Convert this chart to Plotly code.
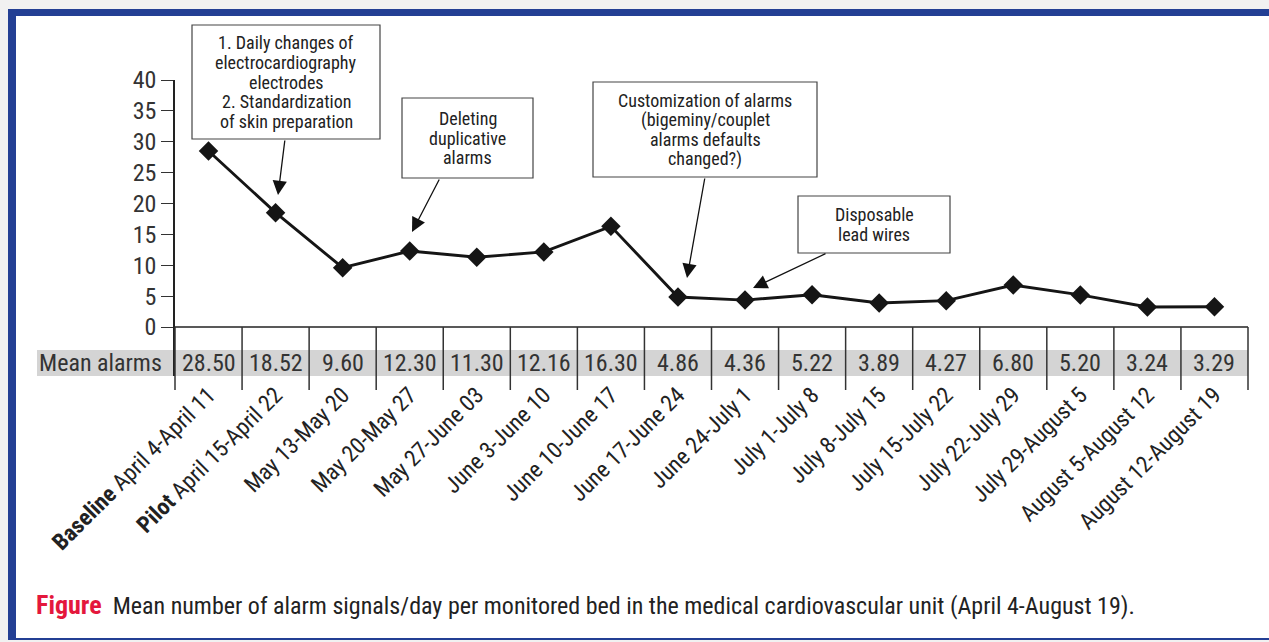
import plotly.graph_objects as go

categories = ["<b>Baseline</b> April 4-April 11", "<b>Pilot</b> April 15-April 22", "May 13-May 20",
              "May 20-May 27", "May 27-June 03", "June 3-June 10", "June 10-June 17",
              "June 17-June 24", "June 24-July 1", "July 1-July 8", "July 8-July 15",
              "July 15-July 22", "July 22-July 29", "July 29-August 5", "August 5-August 12",
              "August 12-August 19"]
mean_alarms = [28.50, 18.52, 9.60, 12.30, 11.30, 12.16, 16.30, 4.86, 4.36, 5.22, 3.89,
               4.27, 6.80, 5.20, 3.24, 3.29]
y_ticks = [0, 5, 10, 15, 20, 25, 30, 35, 40]
row_label = "Mean alarms"
callouts = [
    ["1. Daily changes of", "electrocardiography", "electrodes", "2. Standardization", "of skin preparation"],
    ["Deleting", "duplicative", "alarms"],
    ["Customization of alarms", "(bigeminy/couplet", "alarms defaults", "changed?)"],
    ["Disposable", "lead wires"],
]
caption_head = "Figure"
caption_text = "Mean number of alarm signals/day per monitored bed in the medical cardiovascular unit (April 4-August 19)."

FONT = "'Roboto Condensed', Roboto, sans-serif"
W, H = 1269, 642
L, R, T, B = 175, 1248, 80, 376
Y0PX = 327                      # pixel row of y = 0
YMAX = 40
YMIN = -(B - Y0PX) * YMAX / (Y0PX - T)
N = len(categories)


def px(x):
    return (x - L) / (R - L)


def py(y):
    return (B - y) / (B - T)


def ydata(pix):
    return (Y0PX - pix) * YMAX / (Y0PX - T)


def xdata(pix):
    return (pix - L) * N / (R - L) - 0.5


xs = list(range(N))
fig = go.Figure()
fig.add_trace(go.Scatter(
    x=xs, y=mean_alarms, mode="lines+markers",
    line=dict(color="#151515", width=2.9),
    marker=dict(symbol="diamond", size=15, color="#151515"),
    showlegend=False, hoverinfo="skip", cliponaxis=False))

shapes = []
# page frame
shapes.append(dict(type="rect", xref="paper", yref="paper", x0=px(0), x1=px(W), y0=py(0), y1=py(H),
                   fillcolor="#f1f1f1", line=dict(width=0), layer="below"))
shapes.append(dict(type="rect", xref="paper", yref="paper", x0=px(8), x1=px(W), y0=py(9), y1=py(640),
                   fillcolor="#233f94", line=dict(width=0), layer="below"))
shapes.append(dict(type="rect", xref="paper", yref="paper", x0=px(16), x1=px(W), y0=py(16), y1=py(638),
                   fillcolor="white", line=dict(width=0), layer="below"))
# gray table band
shapes.append(dict(type="rect", xref="paper", yref="paper", x0=px(37), x1=1, y0=py(350), y1=py(376),
                   fillcolor="#d4d4d4", line=dict(width=0), layer="below"))
# x line at zero
shapes.append(dict(type="line", xref="x", yref="y", x0=-0.5, x1=N - 0.5, y0=0, y1=0,
                   line=dict(color="#222222", width=1.6)))
# column separators (boundaries between categories)
for i in range(0, N + 1):
    shapes.append(dict(type="line", xref="paper", yref="paper", x0=i / N, x1=i / N,
                       y0=py(Y0PX), y1=py(390), line=dict(color="#333333", width=1.5)))

annotations = []
annotations.append(dict(xref="paper", yref="paper", x=px(37), y=py(363), xanchor="left", yanchor="middle",
                        text=row_label, showarrow=False, font=dict(size=24, color="#333333", family=FONT)))
for i, v in enumerate(mean_alarms):
    annotations.append(dict(xref="x", yref="paper", x=i, y=py(363), text=f"{v:.2f}", showarrow=False,
                            xanchor="center", yanchor="middle",
                            font=dict(size=24, color="#333333", family=FONT)))

box_geom = [  # x0, x1, y0, y1 (pixels), line spacing
    (192, 380, 25, 139, 19.6),
    (402, 533, 98, 178, 19.6),
    (593, 817, 82, 177, 19.6),
    (798, 950, 196, 253, 19.6),
]
for lines, (x0, x1, y0, y1, sp) in zip(callouts, box_geom):
    shapes.append(dict(type="rect", xref="paper", yref="paper", x0=px(x0), x1=px(x1), y0=py(y0), y1=py(y1),
                       fillcolor="white", line=dict(color="#444444", width=1.2), layer="above"))
    cy = (y0 + y1) / 2
    n = len(lines)
    for k, t in enumerate(lines):
        annotations.append(dict(xref="paper", yref="paper", x=px((x0 + x1) / 2),
                                y=py(cy + sp * (k - (n - 1) / 2)), xanchor="center", yanchor="middle",
                                text=t, showarrow=False,
                                font=dict(size=18, color="#222222", family=FONT)))

arrows = [  # tip pixel (x, y), tail offset in px
    (278, 195, 7, -56),
    (412, 232, 28, -54),
    (687, 278, 18, -101),
    (753, 288, 74, -35),
]
for tx, ty, ax, ay in arrows:
    annotations.append(dict(xref="x", yref="y", x=xdata(tx), y=ydata(ty), ax=ax, ay=ay, text="",
                            showarrow=True, arrowhead=2, arrowsize=2.2, arrowwidth=1.3,
                            arrowcolor="#111111", standoff=0, startstandoff=0))

annotations.append(dict(xref="paper", yref="paper", x=px(34), y=py(605), xanchor="left", yanchor="middle",
                        text=(f"<b><span style='color:#e4173c;font-size:26px'>{caption_head}</span></b>"
                              f"  {caption_text}"),
                        showarrow=False, font=dict(size=24, color="#222222", family=FONT)))

fig.update_layout(
    width=W, height=H,
    margin=dict(l=L, r=W - R, t=T, b=H - B, pad=0),
    paper_bgcolor="white", plot_bgcolor="rgba(0,0,0,0)",
    shapes=shapes, annotations=annotations,
    font=dict(family=FONT, color="#333333"),
    xaxis=dict(range=[-0.5, N - 0.5], tickvals=xs, ticktext=categories,
               tickangle=-45, showgrid=False, zeroline=False, showline=False, ticks="",
               tickfont=dict(size=23, color="#222222", family=FONT)),
    yaxis=dict(range=[YMIN, YMAX], tickvals=y_ticks, showgrid=False, zeroline=False,
               showline=True, linecolor="#222222", linewidth=1.5, ticks="outside", ticklen=12,
               tickcolor="#333333", tickwidth=1.3, tickfont=dict(size=24, color="#333333", family=FONT)),
)
fig.write_html("out.html", config={"displayModeBar": False},
               post_script="document.body.style.margin='0';")
